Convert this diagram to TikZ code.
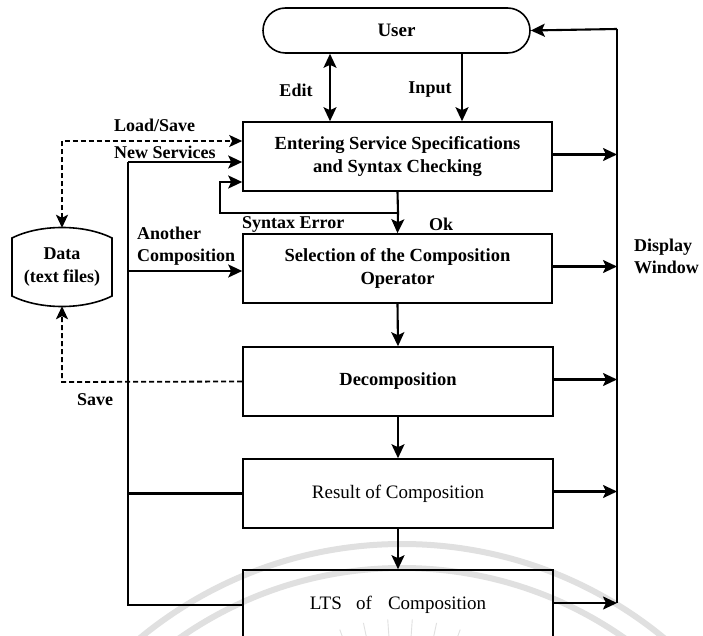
\documentclass[tikz,border=0pt]{standalone}
\usepackage{fontspec}
\setmainfont{Liberation Serif}
\usetikzlibrary{arrows.meta}

\tikzset{
  boxfont/.style={font=\fontsize{18.5}{23}\selectfont\bfseries},
  plainfont/.style={font=\fontsize{19}{23}\selectfont},
  lblb/.style={font=\fontsize{18}{22}\selectfont\bfseries, inner sep=0pt, align=left},
  procbox/.style={draw, line width=1.6pt, minimum width=310pt, minimum height=69pt,
                  inner sep=0pt, align=center, boxfont},
  wire/.style={line width=2.1pt},
  tip/.style={Stealth[length=14pt,width=13pt,inset=3pt]},
  arr/.style={wire, -{Stealth[length=14pt,width=13pt,inset=3pt]}},
  dualarr/.style={wire, {Stealth[length=14pt,width=13pt,inset=3pt]}-{Stealth[length=14pt,width=13pt,inset=3pt]}},
  dashline/.style={line width=1.8pt, dash pattern=on 5pt off 3pt},
  sealmark/.style={gray!24, line width=6pt},
}

\begin{document}
\begin{tikzpicture}[x=1pt, y=-1pt]
\useasboundingbox (0,0) rectangle (703,636);
\fill[white] (0,0) rectangle (703,636);

% faint seal behind the lower part
\draw[sealmark] (402,956) circle (412);
\draw[sealmark] (402,956) circle (388);
\foreach \a in {62,70,...,118}
  \draw[gray!24, line width=0.9pt] (400,795) ++(-\a:158) -- ++(-\a:18);

% user terminal
\node[draw, line width=1.6pt, rounded corners=22.5pt, minimum width=267pt,
      minimum height=45pt, inner sep=0pt, font=\fontsize{19}{23}\selectfont\bfseries]
      (user) at (396.5,30.5) {User};

% processing steps
\node[procbox, minimum width=309pt] (enter) at (397.5,156.5)
      {Entering Service Specifications\\and Syntax Checking};
\node[procbox, minimum width=309pt] (select) at (397.5,268.5)
      {Selection of the Composition\\Operator};
\node[procbox] (decomp) at (398,381.5) {Decomposition};
\node[procbox, plainfont] (result) at (398,493.5) {Result of Composition};
\node[procbox, plainfont, minimum height=70pt] (lts) at (398,605)
      {LTS\hspace{0.5em} of\hspace{0.6em} Composition};

% data store
\node[minimum width=100pt, minimum height=78pt, inner sep=0pt, align=center,
      font=\fontsize{18}{23}\selectfont\bfseries] (data) at (62,267) {Data\\(text files)};
\draw[line width=1.6pt] (12,238) .. controls (40,224) and (84,224) .. (112,238)
      -- (112,296) .. controls (84,310) and (40,310) .. (12,296) -- cycle;

% routing points
\coordinate (rtop) at (617,29);
\coordinate (rbot) at (617,603);
\coordinate (ltop) at (128,162);
\coordinate (lmid) at (128,271);
\coordinate (ex) at (330,0);
\coordinate (ix) at (462,0);
\coordinate (s1) at (398,213);
\coordinate (s2) at (220,213);
\coordinate (s3) at (220,182);
\coordinate (dtop) at (62,141);
\coordinate (dbot) at (62,382);

% user interaction
\draw[dualarr] (user.south -| ex) -- (enter.north -| ex);
\draw[arr] (user.south -| ix) -- (enter.north -| ix);

% main flow
\draw[wire] (enter.south) -- (s1);
\draw[arr] (s1) -- (select.north);
\draw[arr] (s1) -- (s2) -- (s3) -- (s3 -| enter.west);
\draw[arr] (select.south) -- (decomp.north);
\draw[arr] (decomp.south) -- (result.north);
\draw[arr] (result.south) -- (lts.north);

% feedback to the left
\draw[wire] (lts.west) -- (lts.west -| ltop) -- (ltop);
\draw[arr] (ltop) -- (ltop -| enter.west);
\draw[arr] (lmid) -- (lmid -| select.west);
\draw[wire] (result.west) -- (result.west -| ltop);

% display window bus
\draw[wire] (rbot) -- (rtop);
\draw[arr] (rtop) -- (user.east);
\foreach \n in {enter,select,decomp,result,lts}
  \draw[arr] ([yshift=2pt]\n.east) -- ([yshift=2pt]\n.east -| rtop);

% file access
\draw[dashline, {Stealth[length=13pt,width=12pt,inset=3pt]}-{Stealth[length=13pt,width=12pt,inset=3pt]}]
      (data.north) -- (dtop) -- (dtop -| enter.west);
\draw[dashline, -{Stealth[length=13pt,width=12pt,inset=3pt]}]
      (decomp.west) -- (dbot) -- (data.south);

% labels
\node[lblb, anchor=center] (ledit) at (296,90) {Edit};
\node[lblb, anchor=center] (linput) at (430,90) {Input};
\node[lblb, anchor=west] (lload) at (114,125) {Load/Save};
\node[lblb, anchor=west] (lnew) at (114,152) {New Services};
\node[lblb, anchor=west] (lanother) at (137,246) {Another\\Composition};
\node[lblb, anchor=west] (lerr) at (242,224) {Syntax Error};
\node[lblb, anchor=west] (lok) at (429,224) {Ok};
\node[lblb, anchor=west] (lsave) at (77,400) {Save};
\node[lblb, anchor=west] (ldisp) at (634,256) {Display\\Window};
\end{tikzpicture}
\end{document}
